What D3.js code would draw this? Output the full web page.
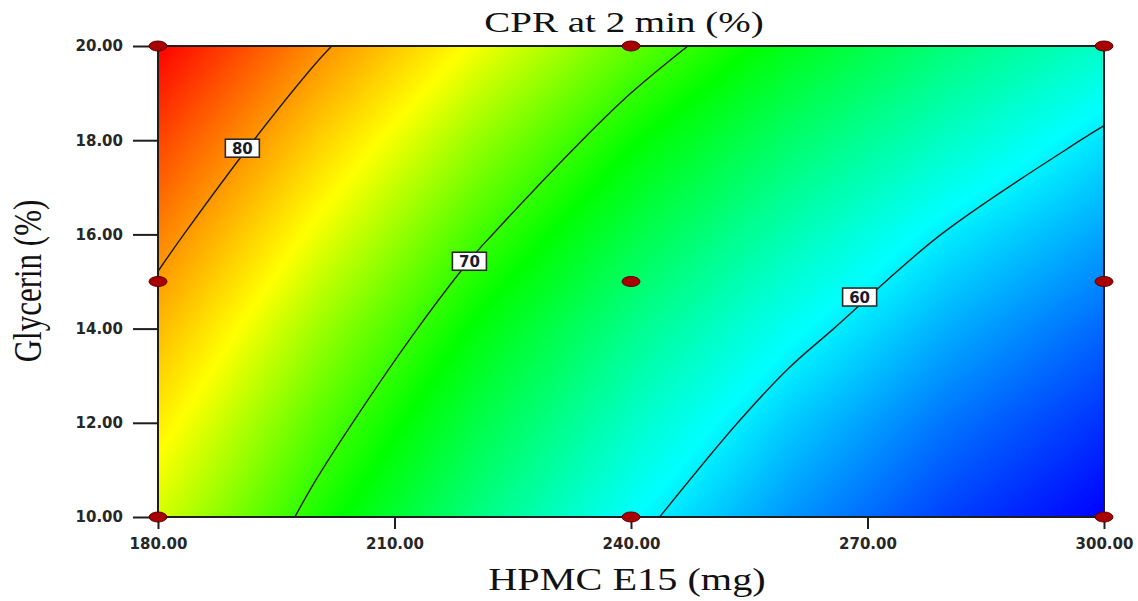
<!DOCTYPE html>
<html>
<head>
<meta charset="utf-8">
<script src="https://cdn.jsdelivr.net/npm/d3@7"></script>
<style>
body { margin: 0; background: #fff; }
svg { display: block; }
</style>
</head>
<body>
<svg id="chart" width="1138" height="601"></svg>
<script>
// HPMC E15 (mg), grid columns
var hpmcLevels = [180, 200, 220, 240, 260, 280, 300];
// Glycerin (%), grid rows from top to bottom
var glycerinLevels = [20, 18, 16, 14, 12, 10];
// CPR at 2 min (%), one row per glycerin level
var cprGrid = [
    [86.1, 80.5, 75.6, 71.3, 67.7, 64.7, 62.2],
    [83.4, 77.8, 72.9, 68.7, 65.2, 62.3, 59.6],
    [80.9, 75.4, 70.5, 66.4, 62.9, 59.9, 57.7],
    [78.6, 73.1, 68.3, 64.2, 60.8, 58.0, 55.8],
    [76.5, 71.1, 66.4, 62.3, 58.9, 56.2, 54.1],
    [74.6, 69.3, 64.6, 60.6, 57.3, 54.6, 52.6]
];
var contourLevels = [60, 70, 80];
// where the level labels sit (hpmc, glycerin)
var labelLevels = [80, 70, 60];
var labelHpmc = [190.7, 219.5, 269.0];
var labelGlycerin = [17.83, 15.43, 14.67];
// design points of the experiment
var pointHpmc = [180, 240, 300, 180, 240, 300, 180, 240, 300];
var pointGlycerin = [20, 20, 20, 15, 15, 15, 10, 10, 10];
var xTicks = [180, 210, 240, 270, 300];
var yTicks = [10, 12, 14, 16, 18, 20];

var svg = d3.select("#chart");
var plotL = 158, plotR = 1104, plotT = 46, plotB = 517;

var x = d3.scaleLinear().domain([180, 300]).range([plotL, plotR]);
var y = d3.scaleLinear().domain([10, 20]).range([plotB, plotT]);

var nx = hpmcLevels.length, ny = glycerinLevels.length;
var colOf = d3.scaleLinear().domain(d3.extent(hpmcLevels)).range([0, nx - 1]);
var rowOf = d3.scaleLinear().domain([glycerinLevels[0], glycerinLevels[ny - 1]]).range([0, ny - 1]);

// value on the surface between grid nodes
function surface(c, r) {
    var i = Math.max(0, Math.min(nx - 2, Math.floor(c)));
    var j = Math.max(0, Math.min(ny - 2, Math.floor(r)));
    var fx = c - i, fy = r - j;
    return (1 - fx) * (1 - fy) * cprGrid[j][i] + fx * (1 - fy) * cprGrid[j][i + 1]
        + (1 - fx) * fy * cprGrid[j + 1][i] + fx * fy * cprGrid[j + 1][i + 1];
}

var lo = d3.min(cprGrid, function (r) { return d3.min(r); });
var hi = d3.max(cprGrid, function (r) { return d3.max(r); });
// blue -> cyan -> green -> yellow -> red (where each hue sits on the CPR scale)
var color = d3.scaleLinear()
    .domain([lo, 60.5, 68.5, 75.8, hi])
    .range(["#0000ff", "#00ffff", "#00ff00", "#ffff00", "#ff0000"])
    .clamp(true);
var lut = d3.range(1024).map(function (k) { return d3.rgb(color(lo + (hi - lo) * k / 1023)); });

/*-------- colour field --------*/
var W = plotR - plotL, H = plotB - plotT;
var canvas = document.createElement("canvas");
canvas.width = W; canvas.height = H;
var ctx = canvas.getContext("2d");
var img = ctx.createImageData(W, H);
for (var py = 0; py < H; py++) {
    var r = rowOf(y.invert(plotT + py + 0.5));
    for (var px = 0; px < W; px++) {
        var c = colOf(x.invert(plotL + px + 0.5));
        var v = surface(c, r);
        var k = Math.max(0, Math.min(1023, Math.round((v - lo) / (hi - lo) * 1023)));
        var col = lut[k], o = (py * W + px) * 4;
        img.data[o] = col.r; img.data[o + 1] = col.g; img.data[o + 2] = col.b; img.data[o + 3] = 255;
    }
}
ctx.putImageData(img, 0, 0);

svg.append("defs").append("clipPath").attr("id", "plot-clip")
    .append("rect").attr("x", plotL).attr("y", plotT).attr("width", W).attr("height", H);

svg.append("image")
    .attr("x", plotL).attr("y", plotT).attr("width", W).attr("height", H)
    .attr("preserveAspectRatio", "none")
    .attr("href", canvas.toDataURL());

/*-------- contour lines --------*/
// grid coordinates of d3.contours: node i sits at i + 0.5
var gx = d3.scaleLinear().domain([0.5, nx - 0.5]).range([plotL, plotR]);
var gy = d3.scaleLinear().domain([0.5, ny - 0.5]).range([plotT, plotB]);
var contours = d3.contours().size([nx, ny]).thresholds(contourLevels)(cprGrid.flat());

function inside(p) {
    var e = 1e-6;
    return p[0] >= 0.5 - e && p[0] <= nx - 0.5 + e && p[1] >= 0.5 - e && p[1] <= ny - 0.5 + e;
}
// drop crossings that crowd the previous one, so the curve stays smooth
function thin(run) {
    var out = [run[0]];
    for (var i = 1; i < run.length; i++) {
        var a = out[out.length - 1], b = run[i];
        var dist = Math.hypot(gx(b[0]) - gx(a[0]), gy(b[1]) - gy(a[1]));
        if (dist >= 20 || i === run.length - 1) {
            if (i === run.length - 1 && dist < 20 && out.length > 1) out.pop();
            out.push(b);
        }
    }
    return out;
}
// keep only the parts of each ring inside the plot (drop the frame edges)
var runs = [];
contours.forEach(function (cn) {
    cn.coordinates.forEach(function (poly) {
        poly.forEach(function (ring) {
            var pts = ring.slice(0, -1);
            var s = pts.findIndex(function (p) { return !inside(p); });
            if (s < 0) { runs.push(ring); return; }
            pts = pts.slice(s).concat(pts.slice(0, s));
            var run = [];
            pts.concat([pts[0]]).forEach(function (p) {
                if (inside(p)) run.push(p);
                else { if (run.length > 1) runs.push(thin(run)); run = []; }
            });
        });
    });
});

var line = d3.line()
    .x(function (p) { return gx(p[0]); })
    .y(function (p) { return gy(p[1]); })
    .curve(d3.curveCatmullRom.alpha(0.5));
svg.append("g").attr("clip-path", "url(#plot-clip)")
    .selectAll("path").data(runs).enter().append("path")
    .attr("d", line)
    .attr("fill", "none")
    .attr("stroke", "#1c1c1c")
    .attr("stroke-width", 1.4);

// plot frame
svg.append("rect")
    .attr("x", plotL).attr("y", plotT).attr("width", W).attr("height", H)
    .attr("fill", "none").attr("stroke", "#1e1e1e").attr("stroke-width", 2);

/*-------- axes --------*/
var fmt = d3.format(".2f");
var yAxis = svg.append("g").attr("transform", "translate(" + plotL + ",0)")
    .call(d3.axisLeft(y).tickValues(yTicks).tickFormat(fmt).tickSize(25).tickPadding(10).tickSizeOuter(0));
var xAxis = svg.append("g").attr("transform", "translate(0," + plotB + ")")
    .call(d3.axisBottom(x).tickValues(xTicks).tickFormat(fmt).tickSize(12).tickPadding(9).tickSizeOuter(0));
[yAxis, xAxis].forEach(function (ax) {
    ax.select(".domain").remove();
    ax.selectAll(".tick line").attr("stroke", "#1e1e1e").attr("stroke-width", 2);
    ax.selectAll(".tick text")
        .attr("fill", "#262626")
        .style("font-family", "'DejaVu Sans', sans-serif")
        .style("font-weight", "bold")
        .style("font-size", "15px");
});

/*-------- design points --------*/
svg.append("g").selectAll("ellipse").data(pointHpmc).enter().append("ellipse")
    .attr("cx", function (d) { return x(d); })
    .attr("cy", function (d, i) { return y(pointGlycerin[i]); })
    .attr("rx", 9).attr("ry", 5)
    .attr("fill", "#a80000")
    .attr("stroke", "#5c0000")
    .attr("stroke-width", 1);

/*-------- level labels --------*/
var lab = svg.append("g").selectAll("g").data(labelLevels).enter().append("g")
    .attr("transform", function (d, i) {
        return "translate(" + x(labelHpmc[i]) + "," + y(labelGlycerin[i]) + ")";
    });
lab.append("rect")
    .attr("x", -17).attr("y", -9).attr("width", 34).attr("height", 18)
    .attr("fill", "#fff").attr("stroke", "#2a2a2a").attr("stroke-width", 1.6);
lab.append("text")
    .attr("text-anchor", "middle").attr("dy", "0.37em")
    .style("font-family", "'DejaVu Sans', sans-serif")
    .style("font-weight", "bold").style("font-size", "15px")
    .attr("fill", "#1a1a2a")
    .text(function (d) { return d; });

/*-------- titles --------*/
var serif = "'Liberation Serif', 'Times New Roman', serif";
svg.append("g").attr("transform", "translate(624,32) scale(1.3,1)")
    .append("text").attr("text-anchor", "middle")
    .style("font-family", serif).style("font-size", "30px").attr("fill", "#111")
    .text("CPR at 2 min (%)");
svg.append("g").attr("transform", "translate(627,590) scale(1.3,1)")
    .append("text").attr("text-anchor", "middle")
    .style("font-family", serif).style("font-size", "31px").attr("fill", "#111")
    .text("HPMC E15 (mg)");
svg.append("g").attr("transform", "translate(41,281) scale(1.3,1) rotate(-90)")
    .append("text").attr("text-anchor", "middle")
    .style("font-family", serif).style("font-size", "31px").attr("fill", "#111")
    .text("Glycerin (%)");
</script>
</body>
</html>
